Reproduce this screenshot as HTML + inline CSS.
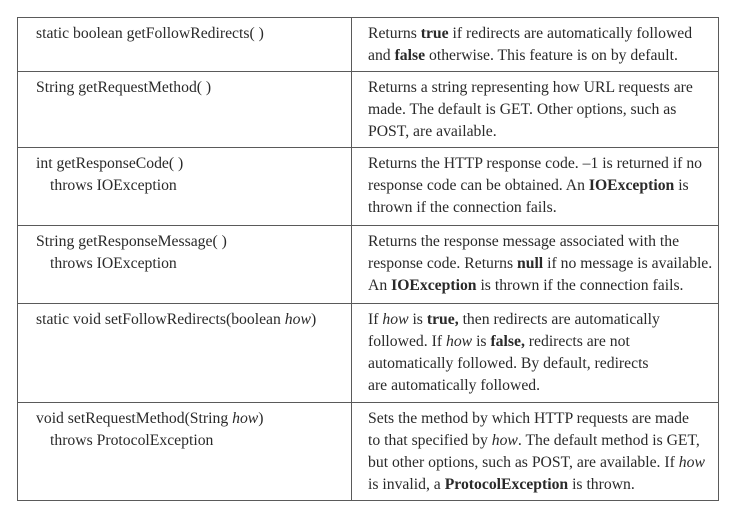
<!DOCTYPE html>
<html><head><meta charset="utf-8"><style>
html,body{margin:0;padding:0;background:#fff;width:735px;height:525px;overflow:hidden}
#t{position:absolute;left:17px;top:17px;border-collapse:collapse;font-family:"Liberation Serif",serif;font-size:15.7px;color:#2a2a2a;table-layout:fixed}
#t td{border:1.5px solid #5a5a5a;vertical-align:top;padding:5px 0 0 18px;line-height:22px;box-sizing:border-box}
#t td.r{padding-left:16px}
.ind{padding-left:14px}
</style></head><body>
<table id="t">
<colgroup><col style="width:334px"><col style="width:367px"></colgroup>
<tr style="height:54px">
<td>static boolean getFollowRedirects( )</td>
<td class="r">Returns <b>true</b> if redirects are automatically followed<br>and <b>false</b> otherwise. This feature is on by default.</td></tr>
<tr style="height:76px">
<td>String getRequestMethod( )</td>
<td class="r">Returns a string representing how URL requests are<br>made. The default is GET. Other options, such as<br>POST, are available.</td></tr>
<tr style="height:78px">
<td>int getResponseCode( )<br><span class="ind">throws IOException</span></td>
<td class="r">Returns the HTTP response code. –1 is returned if no<br>response code can be obtained. An <b>IOException</b> is<br>thrown if the connection fails.</td></tr>
<tr style="height:78px">
<td>String getResponseMessage( )<br><span class="ind">throws IOException</span></td>
<td class="r">Returns the response message associated with the<br>response code. Returns <b>null</b> if no message is available.<br>An <b>IOException</b> is thrown if the connection fails.</td></tr>
<tr style="height:99px">
<td>static void setFollowRedirects(boolean <i>how</i>)</td>
<td class="r">If <i>how</i> is <b>true,</b> then redirects are automatically<br>followed. If <i>how</i> is <b>false,</b> redirects are not<br>automatically followed. By default, redirects<br>are automatically followed.</td></tr>
<tr style="height:98px">
<td>void setRequestMethod(String <i>how</i>)<br><span class="ind">throws ProtocolException</span></td>
<td class="r">Sets the method by which HTTP requests are made<br>to that specified by <i>how</i>. The default method is GET,<br>but other options, such as POST, are available. If <i>how</i><br>is invalid, a <b>ProtocolException</b> is thrown.</td></tr>
</table>
</body></html>
